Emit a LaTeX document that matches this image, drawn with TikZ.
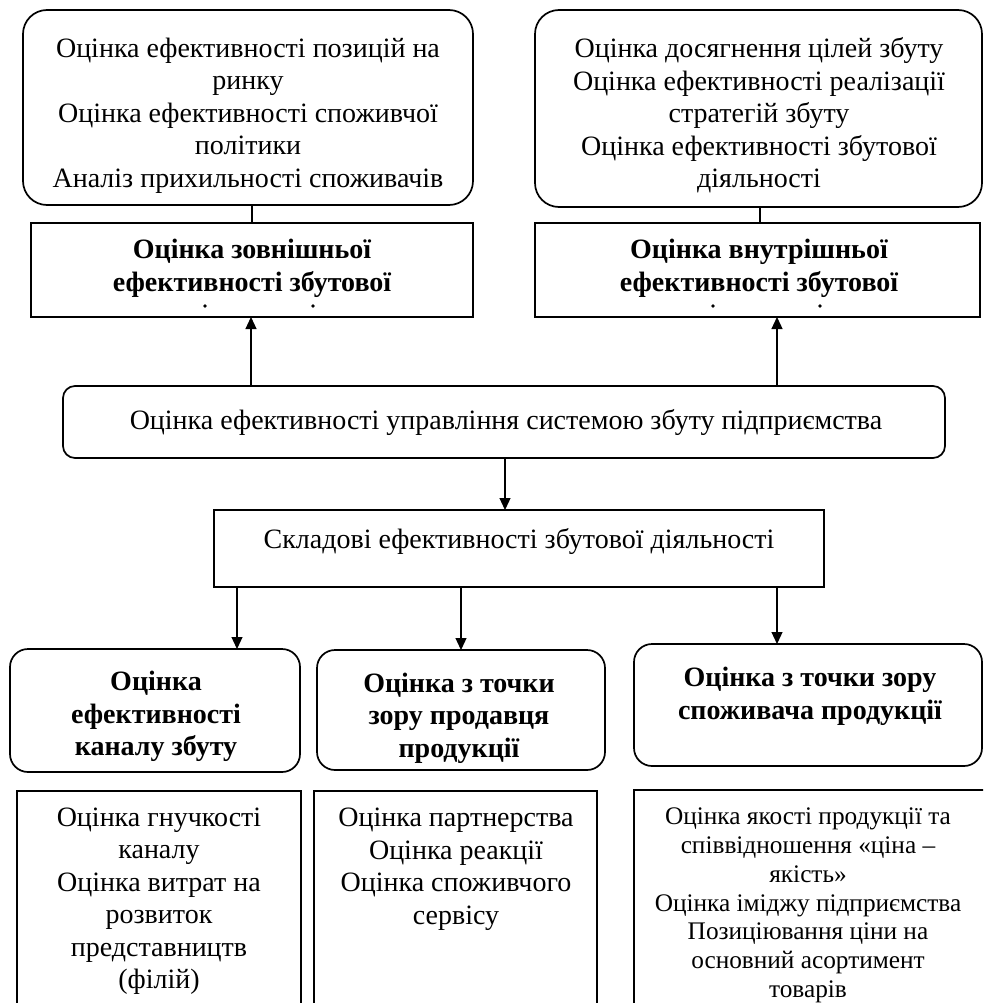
\documentclass[tikz,border=0pt]{standalone}
\usepackage{fontspec}
\setmainfont{Liberation Serif}
\usetikzlibrary{arrows.meta}
\begin{document}
\begin{tikzpicture}[x=1pt,y=-1pt,
  every node/.style={inner sep=0pt, outer sep=0pt},
  rbox/.style={draw, line width=1.7pt, rounded corners=24pt},
  hbox/.style={draw, line width=1.7pt, rounded corners=18pt},
  sbox/.style={draw, line width=1.7pt},
  txt/.style={align=center, font=\fontsize{28}{32.5}\selectfont},
  btxt/.style={align=center, font=\fontsize{28}{32.5}\selectfont\bfseries},
  stxt/.style={align=center, font=\fontsize{25.3}{28.8}\selectfont},
  ln/.style={line width=1.2pt},
  arr/.style={line width=1.2pt, -{Triangle[length=12pt,width=11pt]}},
  dot/.style={fill=black}
]
\useasboundingbox (0,0) rectangle (983,1003);
\clip (0,0) rectangle (983,1003);
\fill[white] (0,0) rectangle (983,1003);

% top row
\node[rbox, minimum width=450pt, minimum height=195pt] (tlb) at (248,107.5) {};
\node[txt] (tlt) at (248,115.5) {Оцінка ефективності позицій на\\ринку\\Оцінка ефективності споживчої\\політики\\Аналіз прихильності споживачів};
\node[rbox, minimum width=447pt, minimum height=197pt] (trb) at (758.5,108.5) {};
\node[txt] (trt) at (759,115.5) {Оцінка досягнення цілей збуту\\Оцінка ефективності реалізації\\стратегій збуту\\Оцінка ефективності збутової\\діяльності};

% second row
\node[sbox, minimum width=442pt, minimum height=94pt] (lr) at (252,270) {};
\node[btxt] (lrt) at (252,268.5) {Оцінка зовнішньої\\ефективності збутової};
\node[sbox, minimum width=445pt, minimum height=94pt] (rr) at (757.5,270) {};
\node[btxt] (rrt) at (759,268.5) {Оцінка внутрішньої\\ефективності збутової};
\fill[dot] (205,306) circle (1.8);
\fill[dot] (313,306) circle (1.8);
\fill[dot] (713,306) circle (1.8);
\fill[dot] (820,306) circle (1.8);

\draw[ln] (lr.north) -- (lr.north |- tlb.south);
\coordinate (rc) at (760,0);
\draw[ln] (rc |- rr.north) -- (rc |- trb.south);

% middle
\node[draw, line width=1.7pt, rounded corners=12pt, minimum width=882pt, minimum height=72pt] (mid) at (504,422) {};
\node[txt] (midt) at (506,422) {Оцінка ефективності управління системою збуту підприємства};
\coordinate (la) at (251,0);
\coordinate (ra) at (777,0);
\draw[arr] (la |- mid.north) -- (la |- lr.south);
\draw[arr] (ra |- mid.north) -- (ra |- rr.south);

\node[sbox, minimum width=610pt, minimum height=77pt] (skl) at (519,548.5) {};
\node[txt] (sklt) at (519,541) {Складові ефективності збутової діяльності};
\coordinate (ma) at (505,0);
\draw[arr] (ma |- mid.south) -- (ma |- skl.north);

% headings
\node[hbox, minimum width=290pt, minimum height=123pt] (ha) at (155,710.5) {};
\node[btxt] (hat) at (156,716.5) {Оцінка\\ефективності\\каналу збуту};
\node[hbox, minimum width=288pt, minimum height=120pt] (hb) at (461,710) {};
\node[btxt] (hbt) at (459,718) {Оцінка з точки\\зору продавця\\продукції};
\node[hbox, minimum width=348pt, minimum height=122pt] (hc) at (808,705) {};
\node[btxt] (hct) at (810,696.5) {Оцінка з точки зору\\споживача продукції};

\coordinate (a1) at (237,0);
\coordinate (a2) at (461,0);
\coordinate (a3) at (777,0);
\draw[arr] (a1 |- skl.south) -- (a1 |- ha.north);
\draw[arr] (a2 |- skl.south) -- (a2 |- hb.north);
\draw[arr] (a3 |- skl.south) -- (a3 |- hc.north);

% bottom boxes (cut at the lower edge)
\node[sbox, minimum width=284pt, minimum height=240pt] (bd) at (159,911) {};
\node[txt] (bdt) at (159,901) {Оцінка гнучкості\\каналу\\Оцінка витрат на\\розвиток\\представництв\\(філій)};
\node[sbox, minimum width=283pt, minimum height=240pt] (be) at (455.5,911) {};
\node[txt] (bet) at (456,869) {Оцінка партнерства\\Оцінка реакції\\Оцінка споживчого\\сервісу};
\node[sbox, minimum width=361pt, minimum height=240pt] (bf) at (814.5,910) {};
\node[stxt] (bft) at (808,905.5) {Оцінка якості продукції та\\співвідношення «ціна –\\якість»\\Оцінка іміджу підприємства\\Позиціювання ціни на\\основний асортимент\\товарів};
\end{tikzpicture}
\end{document}
